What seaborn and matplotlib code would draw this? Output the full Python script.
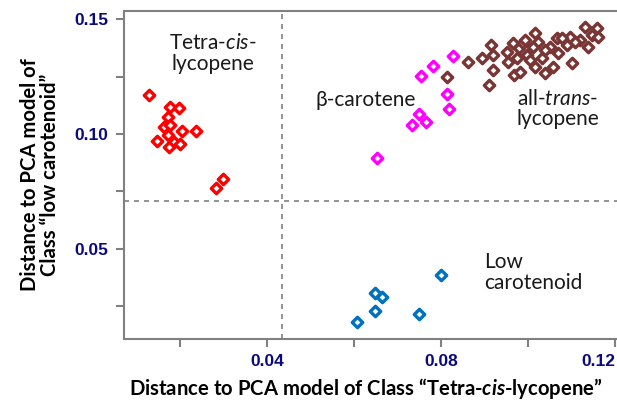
import numpy as np
import pandas as pd
import matplotlib
matplotlib.use("Agg")
import matplotlib.pyplot as plt
import seaborn as sns

# Distances to the two class models, one array pair per sample group
tetra_cis_x = [0.0129, 0.0177, 0.0198, 0.0173, 0.0164, 0.0177, 0.0204, 0.0236,
               0.0173, 0.0148, 0.0185, 0.0200, 0.0175, 0.0298, 0.0282]
tetra_cis_y = [0.1172, 0.1119, 0.1112, 0.1073, 0.1029, 0.1039, 0.1013, 0.1013,
               0.0996, 0.0968, 0.0966, 0.0956, 0.0945, 0.0803, 0.0763]

beta_car_x = [0.0828, 0.0781, 0.0755, 0.0813, 0.0818, 0.0749, 0.0766, 0.0733, 0.0652]
beta_car_y = [0.1341, 0.1297, 0.1255, 0.1176, 0.1110, 0.1087, 0.1051, 0.1041, 0.0894]

all_trans_x = [0.0814, 0.0862, 0.0894, 0.0915, 0.0920, 0.0920, 0.0910, 0.0952,
               0.0966, 0.0954, 0.0979, 0.0968, 0.0982, 0.0989, 0.0998, 0.0993,
               0.1016, 0.1023, 0.1011, 0.1039, 0.1032, 0.1016, 0.1057, 0.1051,
               0.1067, 0.1069, 0.1090, 0.1097, 0.1101, 0.1120, 0.1131, 0.1138,
               0.1147, 0.1159, 0.1161, 0.1039, 0.1005, 0.1108, 0.1078, 0.0975]
all_trans_y = [0.1249, 0.1314, 0.1332, 0.1389, 0.1345, 0.1279, 0.1214, 0.1358,
               0.1397, 0.1314, 0.1376, 0.1258, 0.1271, 0.1397, 0.1345, 0.1410,
               0.1441, 0.1402, 0.1380, 0.1266, 0.1332, 0.1293, 0.1293, 0.1380,
               0.1419, 0.1354, 0.1389, 0.1424, 0.1310, 0.1410, 0.1467, 0.1380,
               0.1432, 0.1463, 0.1424, 0.1367, 0.1323, 0.1402, 0.1419, 0.1332]

low_car_x = [0.0799, 0.0648, 0.0664, 0.0648, 0.0749, 0.0606]
low_car_y = [0.0384, 0.0304, 0.0290, 0.0227, 0.0213, 0.0178]

group_names = ["Tetra-cis-lycopene", "beta-carotene", "all-trans-lycopene", "Low carotenoid"]
group_colors = ["#FF0000", "#FF00FF", "#7A3535", "#0070C0"]

# Class thresholds
x_threshold = 0.0434
y_threshold = 0.0707

x_major = [0.04, 0.08, 0.12]
x_minor = [0.02, 0.06, 0.10]
y_major = [0.05, 0.10, 0.15]
y_minor = [0.025, 0.075, 0.125]

frames = []
for name, xs, ys in zip(group_names,
                        [tetra_cis_x, beta_car_x, all_trans_x, low_car_x],
                        [tetra_cis_y, beta_car_y, all_trans_y, low_car_y]):
    frames.append(pd.DataFrame({"x": xs, "y": ys, "group": name}))
df = pd.concat(frames, ignore_index=True)

sns.set_theme(style="white")
plt.rcParams["font.family"] = ["Lato", "DejaVu Sans"]
plt.rcParams["mathtext.fontset"] = "custom"
plt.rcParams["mathtext.rm"] = "Lato"
plt.rcParams["mathtext.it"] = "Lato:italic"
plt.rcParams["mathtext.bf"] = "Lato:bold"
plt.rcParams["mathtext.bfit"] = "Lato:bold:italic"

fig = plt.figure(figsize=(6.17, 4.09), dpi=100)
ax = fig.add_axes([124 / 617, 70 / 409, 493 / 617, 328 / 409])

for name, color in zip(group_names, group_colors):
    sns.scatterplot(data=df[df["group"] == name], x="x", y="y", ax=ax,
                    marker="D", s=28, color=color, facecolor="white",
                    edgecolor=color, linewidth=2.4, legend=False, zorder=3)

ax.axvline(x_threshold, color="#808080", lw=1.2, ls=(0, (3, 3)), zorder=1)
ax.axhline(y_threshold, color="#808080", lw=1.2, ls=(0, (3, 3)), zorder=1)

ax.set_xlim(0.0071, 0.12046)
ax.set_ylim(0.0105, 0.1537)

ax.set_xticks(x_major)
ax.set_xticks(x_minor, minor=True)
ax.set_yticks(y_major)
ax.set_yticks(y_minor, minor=True)
ax.set_xticklabels([f"{v:.2f}" for v in x_major])
ax.set_yticklabels([f"{v:.2f}" for v in y_major])

for spine in ["left", "bottom", "top"]:
    ax.spines[spine].set_color("#808080")
    ax.spines[spine].set_linewidth(1.5)
ax.spines["right"].set_visible(False)

ax.tick_params(which="both", direction="out", color="#808080", width=1.5,
               length=6, bottom=True, left=True, top=False, right=False)
ax.tick_params(axis="both", which="major", pad=5, labelcolor="#0A0A80",
               labelsize=12.5)
for lab in ax.get_xticklabels() + ax.get_yticklabels():
    lab.set_fontfamily("Liberation Sans")
    lab.set_fontweight("bold")
# last x label sits flush against the right edge
ax.get_xticklabels()[-1].set_horizontalalignment("right")

ax.set_xlabel("Distance to PCA model of Class \u201cTetra-$\\mathbfit{cis}$-lycopene\u201d",
              fontsize=14.6, fontweight="bold", color="black")
ax.set_ylabel("Distance to PCA model of\nClass \u201clow carotenoid\u201d",
              fontsize=14.6, fontweight="bold", color="black", linespacing=1.0)
ax.xaxis.set_label_coords(0.49, -0.112)
ax.yaxis.set_label_coords(-0.13, 0.5)

txt_kw = dict(transform=ax.transAxes, fontsize=15, color="#1A1A1A",
              linespacing=1.05, zorder=4)
ax.text(0.180, 0.870, "Tetra-$\\mathit{cis}$-\nlycopene", ha="center", va="center",
        multialignment="center", **txt_kw)
ax.text(0.491, 0.729, "\u03b2-carotene", ha="center", va="center", **txt_kw)
ax.text(0.880, 0.701, "all-$\\mathit{trans}$-\nlycopene", ha="center", va="center",
        multialignment="center", **txt_kw)
ax.text(0.730, 0.203, "Low\ncarotenoid", ha="left", va="center",
        multialignment="left", **txt_kw)

fig.savefig("out.png", dpi=100)
